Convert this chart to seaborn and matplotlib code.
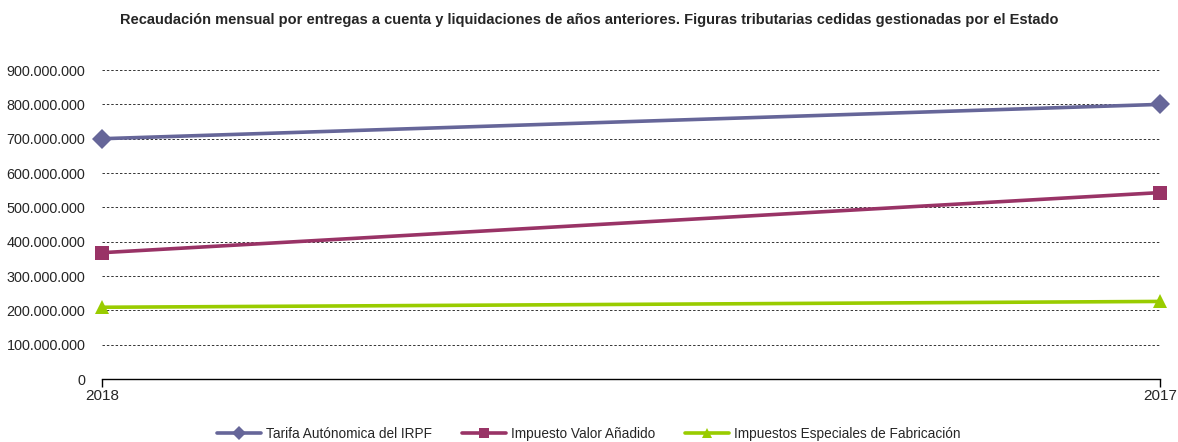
import matplotlib.pyplot as plt
import matplotlib.ticker as mticker
import pandas as pd
import seaborn as sns

years = ['2018', '2017']
series = ['Tarifa Autónomica del IRPF', 'Impuesto Valor Añadido',
          'Impuestos Especiales de Fabricación']
irpf = [700000000, 800000000]
iva = [368000000, 543000000]
ief = [209000000, 226000000]

colors = ['#666699', '#993366', '#99CC00']
markers = ['D', 's', '^']

df = pd.DataFrame({
    'year': years * 3,
    'serie': [series[0]] * 2 + [series[1]] * 2 + [series[2]] * 2,
    'valor': irpf + iva + ief,
})

sns.set_style('white')
plt.rcParams['font.family'] = ['Liberation Sans', 'DejaVu Sans']

fig = plt.figure(figsize=(11.78, 4.42), dpi=100)
ax = fig.add_axes([0.0866, 0.1425, 0.898, 0.699])

sns.lineplot(data=df, x='year', y='valor', hue='serie', style='serie',
             palette=colors, markers=markers, dashes=False, lw=2.6,
             markersize=10, markeredgewidth=0, ax=ax, legend=False, sort=False,
             clip_on=False, zorder=3)

ax.set_xlim(0, 1)
ax.set_ylim(0, 900000000)
ax.yaxis.set_major_locator(mticker.MultipleLocator(100000000))
ax.yaxis.set_major_formatter(mticker.FuncFormatter(
    lambda v, p: f'{int(v):,}'.replace(',', '.')))
for yv in range(100000000, 900000001, 100000000):
    ax.axhline(yv, color='#333333', lw=0.7, ls=(0, (2.5, 2)), zorder=0)

for s in ['top', 'right', 'left']:
    ax.spines[s].set_visible(False)
ax.spines['bottom'].set_color('black')
ax.spines['bottom'].set_linewidth(1)
ax.tick_params(axis='y', length=0, labelsize=10.4, pad=12)
ax.tick_params(axis='x', length=6, width=1, color='black', labelsize=11,
               direction='out', pad=1, bottom=True)
ax.set_xlabel('')
ax.set_ylabel('')

handles = [plt.Line2D([], [], color=c, marker=m, lw=2.6, markersize=7,
                      markeredgewidth=0) for c, m in zip(colors, markers)]
fig.legend(handles, series, loc='lower center', ncol=3, frameon=False,
           fontsize=9.8, bbox_to_anchor=(0.5, -0.025), handlelength=3.2,
           handletextpad=0.4, columnspacing=2.2)

fig.suptitle('Recaudación mensual por entregas a cuenta y liquidaciones de años anteriores. '
             'Figuras tributarias cedidas gestionadas por el Estado',
             fontsize=10.5, fontweight='bold', y=0.97)

fig.savefig('out.png', dpi=100)
